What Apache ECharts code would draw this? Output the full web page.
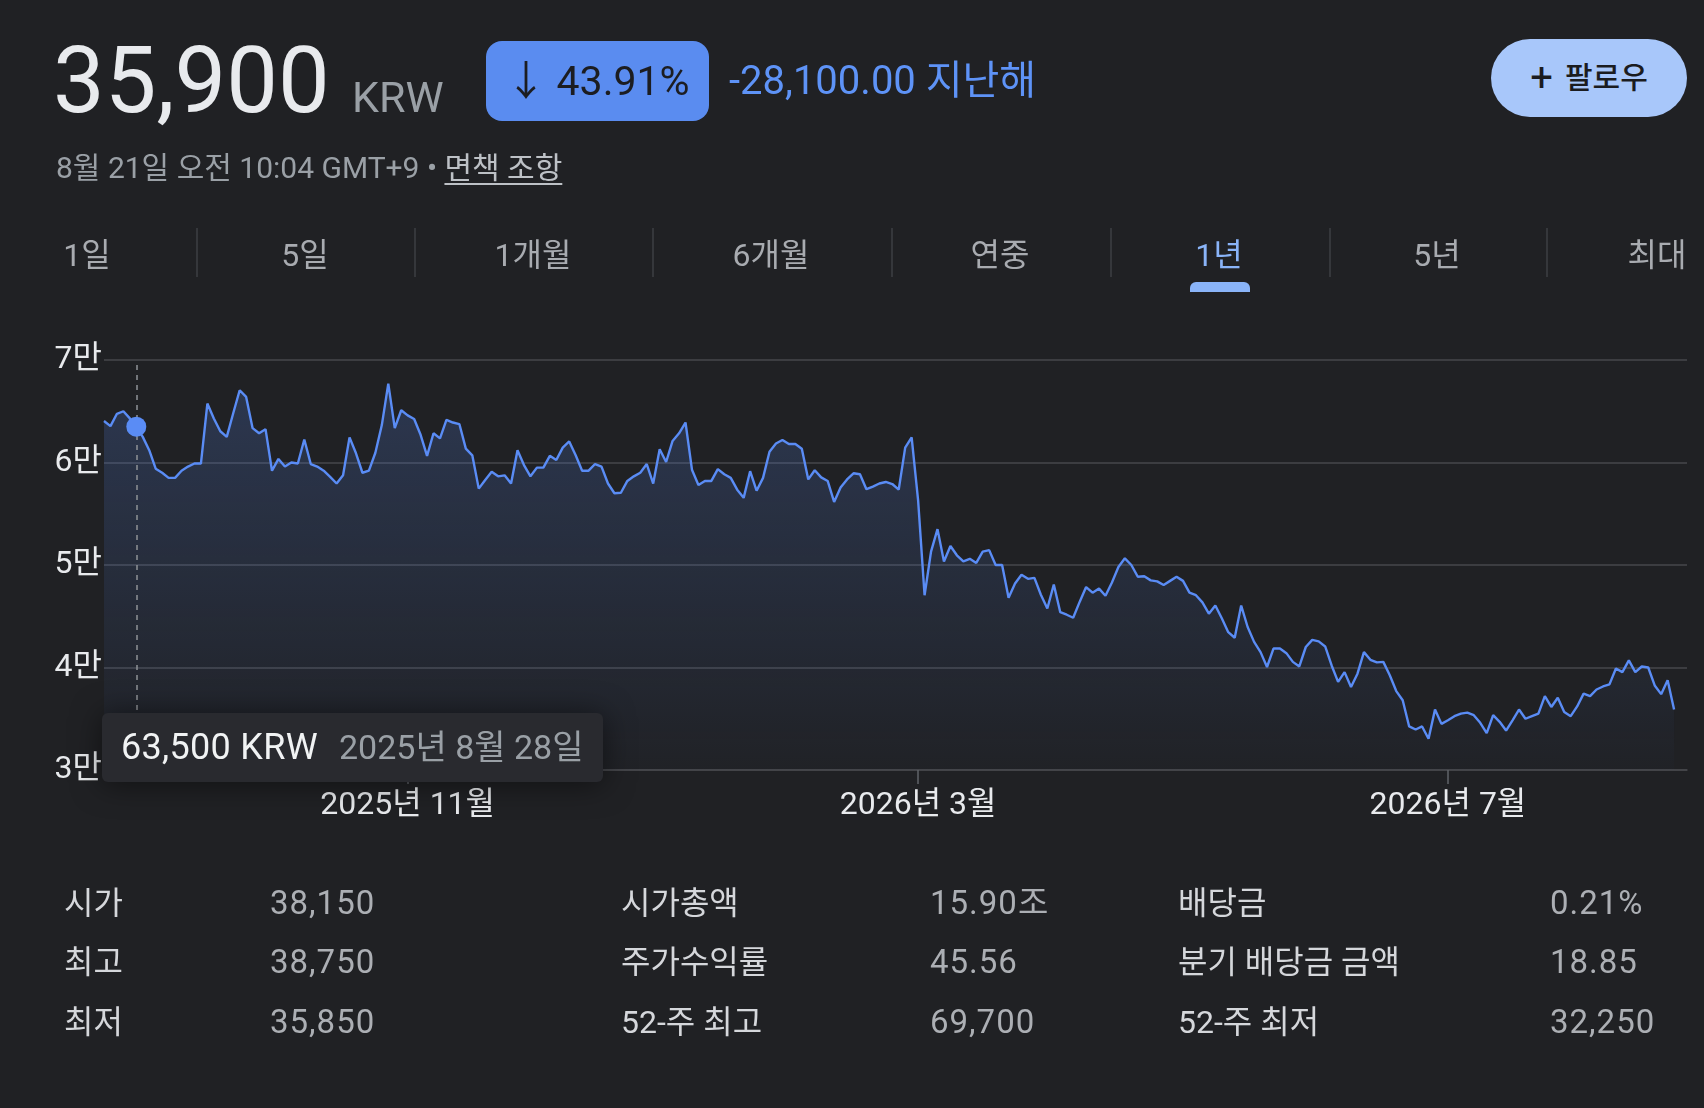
<!DOCTYPE html>
<html lang="ko">
<head>
<meta charset="utf-8">
<script src="https://cdn.jsdelivr.net/npm/echarts@6/dist/echarts.min.js"></script>
<style>
  html,body{margin:0;padding:0;background:#202124;}
  body{width:1704px;height:1108px;position:relative;overflow:hidden;font-family:Roboto,"Noto Sans CJK KR",sans-serif;}
  #chart{position:absolute;left:0;top:0;width:1704px;height:1108px;}
  .abs{position:absolute;white-space:nowrap;}
  .price{left:53px;top:31px;font-size:92px;line-height:100px;color:#e8eaed;}
  .cur{left:352px;top:72px;font-size:43px;line-height:50px;color:#9aa0a6;}
  .badge{left:486px;top:41px;width:223px;height:80px;border-radius:16px;background:#5a8cf0;color:#1c1d21;font-size:41px;line-height:80px;text-align:center;}
  .chg{left:729px;top:56px;font-size:40px;line-height:50px;color:#5e93f7;}
  .follow{left:1491px;top:39px;width:196px;height:78px;border-radius:39px;background:#a8c7fa;color:#1b1c1f;font-size:30px;line-height:78px;text-align:center;font-weight:500;}
  .follow b{font-size:40px;font-weight:400;vertical-align:-3px;margin-right:12px;}
  .sub{left:56px;top:149px;font-size:30px;line-height:38px;color:#9aa0a6;}
  .sub u{color:#bdc1c6;text-decoration-thickness:2px;text-underline-offset:5px;}
  .tab{top:235px;font-size:32px;line-height:40px;color:#a8abb0;transform:translateX(-50%);}
  .tab.on{color:#8ab4f8;}
  .sep{top:228px;width:2px;height:49px;background:#35373b;}
  .ind{left:1190px;top:282px;width:60px;height:10px;border-radius:6px 6px 0 0;background:#8ab4f8;}
  .tip{left:102px;top:713px;width:501px;height:69px;border-radius:6px;background:#292a2f;box-shadow:0 2px 30px rgba(0,0,0,0.5);font-size:34px;line-height:69px;z-index:5;}
  .tip .v{position:absolute;left:19px;color:#f1f3f4;font-size:36px;letter-spacing:0.3px;}
  .tip .d{position:absolute;left:237px;color:#9aa0a6;}
  .lbl{font-size:32px;line-height:40px;color:#d5d7db;}
  .val{font-size:33px;line-height:40px;color:#acafb4;letter-spacing:1px;}
</style>
</head>
<body>
<div id="chart"></div>

<div class="abs price">35,900</div>
<div class="abs cur">KRW</div>
<div class="abs badge">↓ 43.91%</div>
<div class="abs chg">-28,100.00 지난해</div>
<div class="abs follow"><b>+</b>팔로우</div>
<div class="abs sub">8월 21일 오전 10:04 GMT+9 • <u>면책 조항</u></div>

<div id="tabs"></div>
<div class="abs ind"></div>

<div class="abs tip" id="tip"><span class="v" id="tipv"></span><span class="d" id="tipd"></span></div>

<div id="stats"></div>

<script>
// ---- data ----
const tradingMonths = [
  ['2025-08',[21,22,25,26,27,28,29]],
  ['2025-09',[1,2,3,4,5,8,9,10,11,12,15,16,17,18,19,22,23,24,25,26,29,30]],
  ['2025-10',[1,2,10,13,14,15,16,17,20,21,22,23,24,27,28,29,30,31]],
  ['2025-11',[3,4,5,6,7,10,11,12,13,14,17,18,19,20,21,24,25,26,27,28]],
  ['2025-12',[1,2,3,4,5,8,9,10,11,12,15,16,17,18,19,22,23,24,26,29,30]],
  ['2026-01',[2,5,6,7,8,9,12,13,14,15,16,19,20,21,22,23,26,27,28,29,30]],
  ['2026-02',[2,3,4,5,6,9,10,11,12,13,19,20,23,24,25,26,27]],
  ['2026-03',[3,4,5,6,9,10,11,12,13,16,17,18,19,20,23,24,25,26,27,30,31]],
  ['2026-04',[1,2,3,6,7,8,9,10,13,14,15,16,17,20,21,22,23,24,27,28,29,30]],
  ['2026-05',[4,6,7,8,11,12,13,14,15,18,19,20,21,22,26,27,28,29]],
  ['2026-06',[1,2,4,5,8,9,10,11,12,15,16,17,18,19,22,23,24,25,26,29,30]],
  ['2026-07',[1,2,3,6,7,8,9,10,13,14,15,16,20,21,22,23,24,27,28,29,30,31]],
  ['2026-08',[3,4,5,6,7,10,11,12,13,14,18,19,20,21,24,25]]
];
const closePrices = [
  64050,63550,64750,65000,64300,63500,62500,61200,59400,59000,
  58500,58500,59200,59600,59900,59900,65750,64300,63050,62500,
  64800,67050,66400,63350,62850,63250,59200,60350,59600,60000,
  59900,62250,59850,59600,59200,58600,57950,58750,62450,60900,
  59000,59200,60950,63650,67700,63350,65100,64600,64250,62700,
  60650,62850,62350,64150,63900,63750,61350,60700,57450,58300,
  59100,58650,58750,57950,61200,59750,58650,59500,59500,60650,
  60250,61450,62050,60700,59200,59200,59850,59600,57950,57000,
  57050,58200,58650,59000,59850,57950,61300,60050,62100,62850,
  63900,59300,57800,58200,58200,59350,58850,58500,57350,56550,
  59150,57250,58500,61050,61850,62200,61800,61800,61350,58350,
  59250,58550,58200,56150,57550,58350,58950,58850,57400,57650,
  57950,58100,57900,57350,61450,62450,56300,47050,51300,53500,
  50350,51850,50950,50350,50600,50200,51300,51450,50000,50000,
  46800,48200,49050,48650,48750,47100,45750,48100,45400,45150,
  44850,46400,47850,47300,47700,47000,48300,49800,50650,50000,
  48850,48900,48500,48400,48050,48450,48850,48450,47300,47050,
  46350,45250,46050,44800,43450,42900,46050,43950,42500,41500,
  40050,41850,41850,41400,40550,40100,42000,42700,42550,42050,
  40200,38600,39550,38100,39400,41500,40750,40500,40550,39250,
  37700,36800,34250,33950,34250,33050,35900,34500,34850,35250,
  35500,35600,35350,34600,33600,35350,34700,33850,34850,35900,
  35000,35250,35500,37200,36150,37050,35650,35250,36200,37450,
  37200,37850,38150,38350,39900,39550,40700,39550,40100,40000,
  38250,37400,38750,35900
];
const yTicks = [30000,40000,50000,60000,70000];
const xLabelMonths = ['2025-11','2026-03','2026-07'];
const hoverIndex = 5;
const tabLabels = ['1일','5일','1개월','6개월','연중','1년','5년','최대'];
const activeTab = '1년';
const statRows = [
  ['시가','38,150','시가총액','15.90조','배당금','0.21%'],
  ['최고','38,750','주가수익률','45.56','분기 배당금 금액','18.85'],
  ['최저','35,850','52-주 최고','69,700','52-주 최저','32,250']
];

// ---- derived ----
const dates = tradingMonths.flatMap(([m, days]) => days.map(d => m + '-' + String(d).padStart(2,'0')));
const labelIdx = new Set(xLabelMonths.map(m => dates.findIndex(d => d.startsWith(m))));
const fmtMonth = d => { const p = d.split('-'); return p[0] + '년 ' + (+p[1]) + '월'; };
const fmtDay = d => { const p = d.split('-'); return p[0] + '년 ' + (+p[1]) + '월 ' + (+p[2]) + '일'; };

// ---- page texts ----
const tabX = [87,305,533,771,1000,1219,1437,1657];
const sepX = [196,414,652,891,1110,1329,1546];
let th = '';
tabLabels.forEach((t,i)=>{ th += `<div class="abs tab${t===activeTab?' on':''}" style="left:${tabX[i]}px">${t}</div>`; });
sepX.forEach(x=>{ th += `<div class="abs sep" style="left:${x}px"></div>`; });
document.getElementById('tabs').innerHTML = th;

const colX = [64,270,621,930,1178,1550];
const rowY = [883,942,1002];
let sh = '';
statRows.forEach((r,ri)=>{ r.forEach((c,ci)=>{ sh += `<div class="abs ${ci%2===0?'lbl':'val'}" style="left:${colX[ci]}px;top:${rowY[ri]}px">${c}</div>`; }); });
document.getElementById('stats').innerHTML = sh;

document.getElementById('tipv').textContent = closePrices[hoverIndex].toLocaleString('en-US') + ' KRW';
document.getElementById('tipd').textContent = fmtDay(dates[hoverIndex]);

// ---- chart ----
const FONT = 'Roboto, "Noto Sans CJK KR", sans-serif';
const chart = echarts.init(document.getElementById('chart'), null, {renderer:'canvas'});
chart.setOption({
  animation:false,
  backgroundColor:'transparent',
  grid:{left:104,right:17,top:360,bottom:338},
  xAxis:{
    type:'category', data:dates, boundaryGap:false,
    axisLine:{show:true,lineStyle:{color:'#46474b',width:1.5}},
    axisTick:{show:true,interval:(i)=>labelIdx.has(i),length:14,lineStyle:{color:'#5f6368',width:1.5}},
    axisLabel:{interval:(i)=>labelIdx.has(i),formatter:fmtMonth,color:'#e8eaed',fontSize:32,margin:20,fontFamily:FONT},
    splitLine:{show:false}
  },
  yAxis:{
    type:'value', min:yTicks[0], max:yTicks[yTicks.length-1], interval:yTicks[1]-yTicks[0],
    axisLine:{show:false}, axisTick:{show:false},
    axisLabel:{formatter:v=>(v/10000)+'만',color:'#e8eaed',fontSize:32,margin:2,fontFamily:FONT},
    splitLine:{show:true,lineStyle:{color:'#46474b',width:1.5}}
  },
  series:[{
    type:'line', data:closePrices, symbol:'none', silent:true,
    lineStyle:{color:'#5a8cf5',width:2.4},
    areaStyle:{color:new echarts.graphic.LinearGradient(0,0,0,1,[
      {offset:0,color:'rgba(90,140,245,0.3)'},
      {offset:1,color:'rgba(90,140,245,0.02)'}
    ])},
    markLine:{silent:true,symbol:['none','none'],label:{show:false},
      lineStyle:{type:[5,5],color:'#8e9297',width:1.5},
      data:[{xAxis:dates[hoverIndex]}]},
    markPoint:{silent:true,symbol:'circle',symbolSize:20,label:{show:false},
      itemStyle:{color:'#5a8cf5'},
      data:[{coord:[dates[hoverIndex],closePrices[hoverIndex]]}]}
  }]
});
</script>
</body>
</html>
